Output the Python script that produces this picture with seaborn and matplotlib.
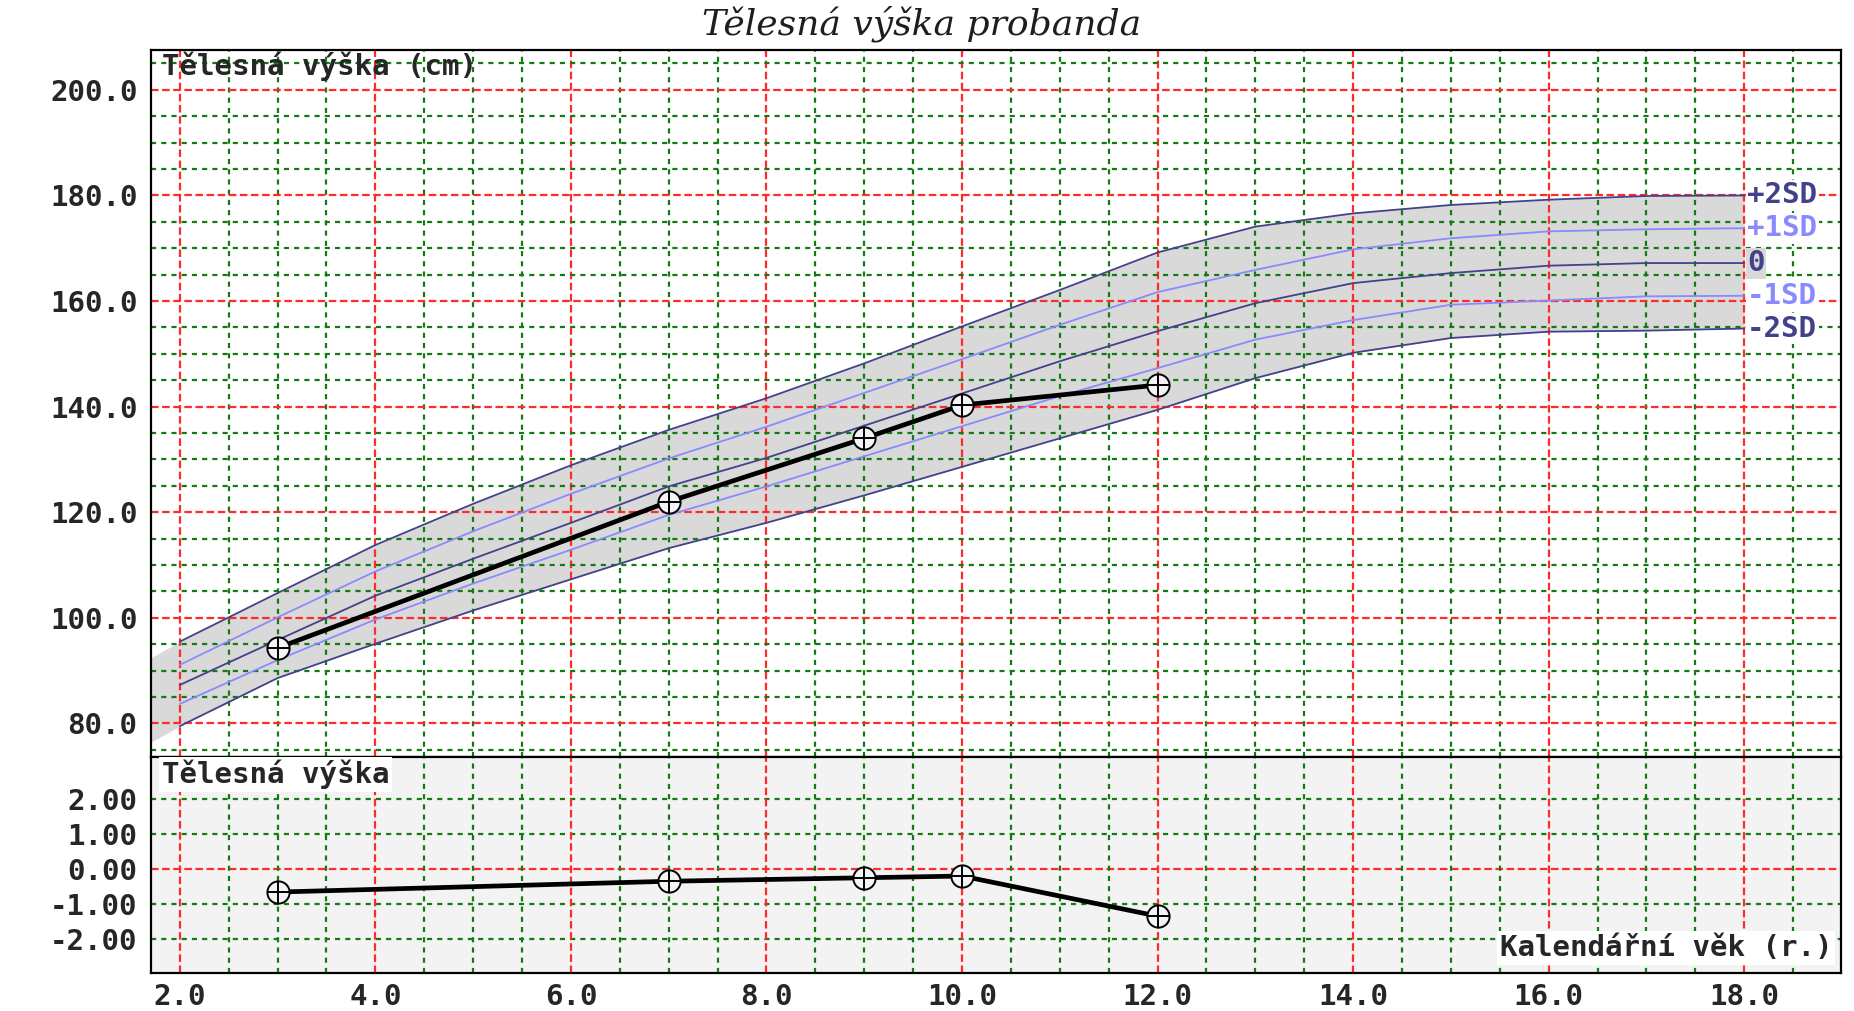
import pandas as pd
import seaborn as sns
import matplotlib.pyplot as plt
from matplotlib.ticker import MultipleLocator

# reference curves (girls' height, cm) by age
ages = [2, 3, 4, 5, 6, 7, 8, 9, 10, 11, 12, 13, 14, 15, 16, 17, 18]
plus2 = [95.5, 104.7, 113.8, 121.6, 128.9, 135.6, 141.6, 148.2, 155.2, 162.1, 169.2,
         174.1, 176.6, 178.2, 179.2, 179.9, 180.0]
plus1 = [91.1, 100.1, 108.8, 116.4, 123.5, 130.2, 136.2, 142.6, 149.0, 155.5, 161.7,
         165.9, 169.8, 171.9, 173.2, 173.6, 173.8]
mean0 = [87.3, 95.8, 104.2, 111.2, 118.0, 124.9, 130.3, 136.4, 142.5, 148.6, 154.3,
         159.6, 163.4, 165.3, 166.7, 167.2, 167.2]
minus1 = [83.7, 92.0, 99.7, 106.5, 112.9, 119.5, 124.9, 130.6, 136.3, 142.0, 147.3,
          152.7, 156.4, 159.3, 160.1, 160.9, 161.0]
minus2 = [79.5, 88.6, 95.1, 101.4, 107.3, 113.2, 118.0, 123.2, 128.6, 134.0, 139.4,
          145.4, 150.2, 153.0, 154.2, 154.4, 154.8]
curve_names = ["+2SD", "+1SD", "0", "-1SD", "-2SD"]

# grey band spills a little left of age 2
band_lead_age = [1.71, 2.0]
band_lead_low = [76.5, 79.5]
band_lead_high = [92.5, 95.5]

# proband measurements
patient_age = [3, 7, 9, 10, 12]
patient_height = [94.3, 122.0, 134.0, 140.3, 144.1]
patient_z = [-0.66, -0.35, -0.25, -0.20, -1.35]

height_ticks = [80, 100, 120, 140, 160, 180, 200]
height_ticklabels = ["80.0", "100.0", "120.0", "140.0", "160.0", "180.0", "200.0"]
z_ticks = [-2, -1, 0, 1, 2]
z_ticklabels = ["-2.00", "-1.00", "0.00", "1.00", "2.00"]
age_ticks = [2, 4, 6, 8, 10, 12, 14, 16, 18]
age_ticklabels = ["2.0", "4.0", "6.0", "8.0", "10.0", "12.0", "14.0", "16.0", "18.0"]

DARK = "#42428a"
LIGHT = "#8a8aff"
RED = "#ff2a2a"
GREEN = "#147a14"
FS = 21

sns.set_style("white")
plt.rcParams["font.family"] = ["DejaVu Sans Mono", "DejaVu Sans"]
plt.rcParams["font.weight"] = "bold"

ref = pd.DataFrame({"age": ages * 5,
                    "height": plus2 + plus1 + mean0 + minus1 + minus2,
                    "curve": sum([[n] * len(ages) for n in curve_names], [])})
pal = {"+2SD": DARK, "+1SD": LIGHT, "0": DARK, "-1SD": LIGHT, "-2SD": DARK}
pat = pd.DataFrame({"age": patient_age, "height": patient_height, "z": patient_z})

fig = plt.figure(figsize=(18.54, 10.11), dpi=100)
ax1 = fig.add_axes([0.0817, 0.2515, 0.9113, 0.6993])
ax2 = fig.add_axes([0.0817, 0.0376, 0.9113, 0.2139], sharex=ax1)
ax2.set_facecolor("#f3f3f3")

for ax in (ax1, ax2):
    ax.set_axisbelow("line")
    ax.xaxis.set_major_locator(MultipleLocator(2))
    ax.xaxis.set_minor_locator(MultipleLocator(0.5))
    ax.grid(which="major", color=RED, lw=1.6, ls=(0, (3.4, 1.6)))
    ax.grid(which="minor", color=GREEN, lw=1.6, ls=(0, (2.3, 2.3)))
    for s in ax.spines.values():
        s.set_color("black")
        s.set_linewidth(1.6)
    ax.tick_params(which="minor", length=0)

# upper panel
ax1.fill_between(ages, minus2, plus2, color="#d9d9d9", lw=0, zorder=1)
ax1.fill_between(band_lead_age, band_lead_low, band_lead_high, color="#d9d9d9", lw=0, zorder=1)
sns.lineplot(data=ref, x="age", y="height", hue="curve", palette=pal, legend=False,
             lw=1.3, ax=ax1, zorder=2)
sns.lineplot(data=pat, x="age", y="height", color="black", lw=3.4, ax=ax1, zorder=3)
ax1.plot(pat["age"], pat["height"], ls="none", marker="o", ms=16, mfc="#f4f4f4",
         mec="black", mew=1.4, zorder=4)
ax1.plot(pat["age"], pat["height"], ls="none", marker="+", ms=16, mec="black",
         mew=1.4, zorder=4)

ax1.set_xlim(1.71, 18.99)
ax1.set_ylim(73.7, 207.6)
ax1.yaxis.set_minor_locator(MultipleLocator(5))
ax1.set_yticks(height_ticks, height_ticklabels)
ax1.tick_params(axis="y", which="major", direction="inout", length=16, width=1.5,
                labelsize=FS, pad=2)
ax1.tick_params(axis="x", which="major", length=0, labelbottom=False)
ax1.set_xlabel("")
ax1.set_ylabel("")
ax1.text(0.006, 0.997, "Tělesná výška (cm)", transform=ax1.transAxes,
         ha="left", va="top", fontsize=FS, fontweight="bold")

last = {n: v[-1] for n, v in zip(curve_names, [plus2, plus1, mean0, minus1, minus2])}
for n in curve_names:
    ax1.text(18.03, last[n], n, color=pal[n], fontsize=FS, fontweight="bold",
             ha="left", va="center", clip_on=False, zorder=5,
             bbox=dict(facecolor="#d9d9d9" if n == "0" else "white",
                       edgecolor="none", pad=1))

# lower panel: SDS
sns.lineplot(data=pat, x="age", y="z", color="black", lw=3.4, ax=ax2, zorder=3)
ax2.plot(pat["age"], pat["z"], ls="none", marker="o", ms=16, mfc="#f4f4f4",
         mec="black", mew=1.4, zorder=4)
ax2.plot(pat["age"], pat["z"], ls="none", marker="+", ms=16, mec="black",
         mew=1.4, zorder=4)
ax2.set_ylim(-2.98, 3.22)
ax2.set_yticks(z_ticks, z_ticklabels)
ax2.grid(which="major", axis="y", visible=False)
ax2.grid(which="minor", axis="y", visible=False)
for v in z_ticks:
    if v == 0:
        ax2.axhline(v, color=RED, lw=1.6, ls=(0, (3.4, 1.6)), zorder=1.5)
    else:
        ax2.axhline(v, color=GREEN, lw=1.6, ls=(0, (2.3, 2.3)), zorder=1.5)
ax2.set_xticks(age_ticks, age_ticklabels)
ax2.tick_params(axis="y", which="major", direction="inout", length=16, width=1.5,
                labelsize=FS, pad=2)
ax2.tick_params(axis="x", which="major", direction="in", length=10, width=1.5,
                labelsize=FS, pad=7)
ax2.set_xlabel("")
ax2.set_ylabel("")
ax2.text(0.006, 0.985, "Tělesná výška", transform=ax2.transAxes,
         ha="left", va="top", fontsize=FS, fontweight="bold", zorder=5,
         bbox=dict(facecolor="white", edgecolor="none", pad=2))
ax2.text(0.995, 0.05, "Kalendářní věk (r.)", transform=ax2.transAxes,
         ha="right", va="bottom", fontsize=FS, fontweight="bold", zorder=5,
         bbox=dict(facecolor="white", edgecolor="none", pad=2))

fig.text(0.497, 0.977, "Tělesná výška probanda", ha="center", va="center",
         family="DejaVu Serif", style="italic", fontweight="normal", fontsize=26,
         color="#1e1e1e")

fig.savefig("out.png", dpi=100)
